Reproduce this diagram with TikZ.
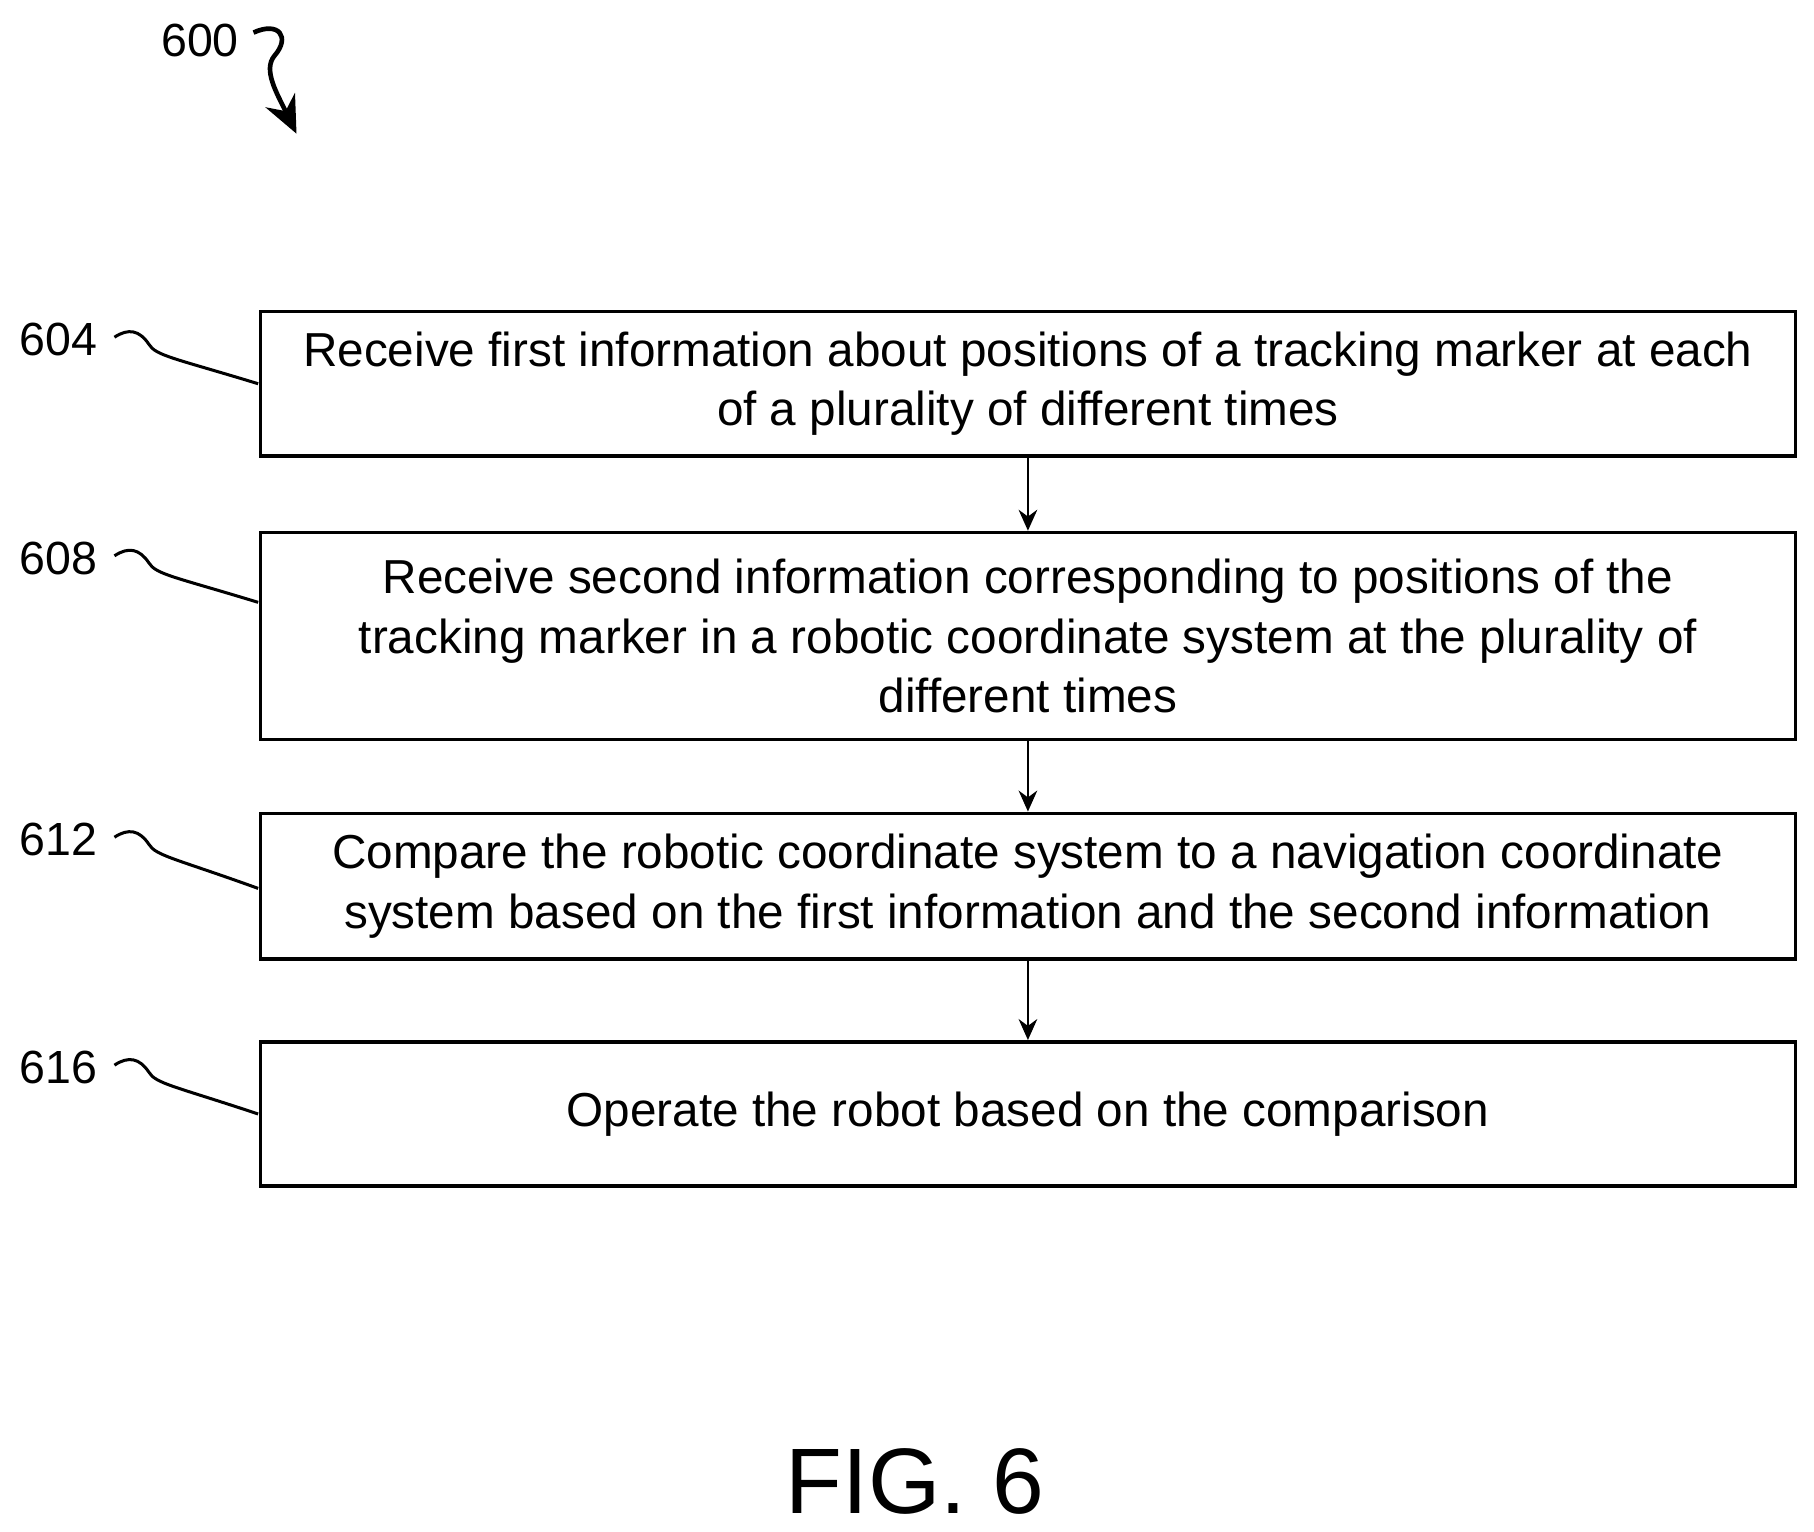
\documentclass[tikz,border=0pt]{standalone}
\usepackage{fontspec}
\setmainfont{Liberation Sans}
\usetikzlibrary{arrows.meta}
\begin{document}
\begin{tikzpicture}[x=0.5pt,y=-0.5pt,
  box/.style={draw,line width=1.6pt,minimum width=660pt,align=center,font=\fontsize{20.5}{25.5}\selectfont,inner sep=0pt},
  lab/.style={font=\fontsize{20}{24}\selectfont},
  arr/.style={-{Stealth[length=9pt,width=8pt]},line width=1.1pt},
  sq/.style={line width=1.3pt}]
\useasboundingbox (0,0) rectangle (1560,1317);
\node[box,minimum height=62pt] (b1) at (884,330) {Receive first information about positions of a tracking marker at each\\of a plurality of different times};
\node[box,minimum height=89pt] (b2) at (884,547) {Receive second information corresponding to positions of the\\tracking marker in a robotic coordinate system at the plurality of\\different times};
\node[box,minimum height=62.5pt] (b3) at (884,762) {Compare the robotic coordinate system to a navigation coordinate\\system based on the first information and the second information};
\node[box,minimum height=62pt] (b4) at (884,958) {Operate the robot based on the comparison};
\draw[arr] (b1.south) -- (b2.north);
\draw[arr] (b2.south) -- (b3.north);
\draw[arr] (b3.south) -- (b4.north);
\foreach \n/\t/\y/\e in {l1/604/292/330, l2/608/480/518, l3/612/722/764, l4/616/918/958}{
  \node[lab] (\n) at (50,\y) {\t};
  \coordinate (\n e) at (222,\e);
  \draw[sq] (\n.east) ++(8,-2) .. controls ++(12,-8) and (120,\y-8) .. (128,\y+4) .. controls (134,\y+14) and (150,\y+16) .. (\n e);
}
\node[lab] (l0) at (172,35) {600};
\coordinate (t0) at (255,115);
\draw[line width=2pt,-{Stealth[length=16pt,width=14pt]}] (218,28) .. controls (240,18) and (250,32) .. (236,48) .. controls (226,60) and (238,80) .. (t0);
\node[font=\fontsize{40}{46}\selectfont] (fig) at (787,1274) {FIG. 6};
\end{tikzpicture}
\end{document}
